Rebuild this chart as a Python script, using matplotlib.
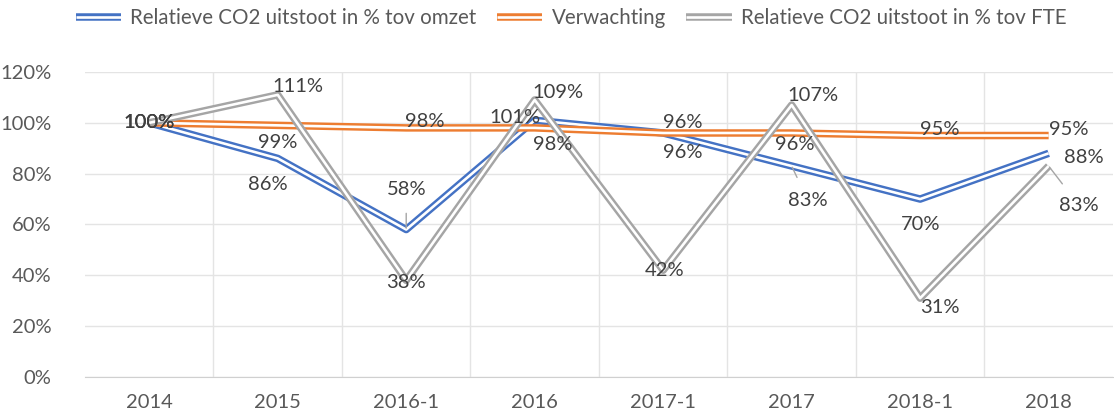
import matplotlib.pyplot as plt
import matplotlib.patheffects as pe
import numpy as np

plt.rcParams['font.family'] = ['Lato', 'DejaVu Sans']

# data
categories = ['2014', '2015', '2016-1', '2016', '2017-1', '2017', '2018-1', '2018']
omzet = [100, 86, 58, 101, 96, 83, 70, 88]
verwachting = [100, 99, 98, 98, 96, 96, 95, 95]
fte = [100, 111, 38, 109, 42, 107, 31, 83]

labels = ['Relatieve CO2 uitstoot in % tov omzet', 'Verwachting',
          'Relatieve CO2 uitstoot in % tov FTE']
colors = ['#4472C4', '#ED7D31', '#A5A5A5']

# label offsets in pixels (dx, dy), and whether a leader line is drawn
off_omzet = [(0, 0), (-10, -26), (0, 40), (-20, 3), (20, -20), (16, -34), (0, -25), (35, -4)]
off_verw = [(0, 0), (0, -17), (19, 6), (18, -17), (20, 10), (3, -12), (20, 6), (20, 6)]
off_fte = [(0, 0), (20, 8), (0, -2), (23, 7), (1, 0), (21, 10), (20, -9), (30, -39)]
lead_omzet = [False, False, True, False, False, True, False, False]
lead_fte = [False, False, False, False, False, False, False, True]

fig = plt.figure(figsize=(11.14, 4.19), dpi=100)
ax = fig.add_axes([0.0763, 0.1003, 0.9227, 0.7279])

x = np.arange(len(categories))
series = [omzet, verwachting, fte]
for vals, lab, col in zip(series, labels, colors):
    # double line look: wide coloured stroke with a thin white stroke on top
    ax.plot(x, vals, color=col, lw=5.4, label=lab,
            path_effects=[pe.Stroke(linewidth=5.4, foreground=col, capstyle='butt'),
                          pe.Stroke(linewidth=1.9, foreground='white', capstyle='butt')])

txt = '#404040'
for vals, offs, leads in [(omzet, off_omzet, lead_omzet),
                          (verwachting, off_verw, [False] * 8),
                          (fte, off_fte, lead_fte)]:
    for i, v in enumerate(vals):
        dx, dy = offs[i]
        kw = {}
        if leads[i]:
            kw['arrowprops'] = dict(arrowstyle='-', color='#A5A5A5', lw=1,
                                    shrinkA=9, shrinkB=1)
        ax.annotate(f'{v}%', (i, v), xytext=(dx, dy), textcoords='offset pixels',
                    ha='center', va='center', fontsize=14.5, color=txt, **kw)

ax.set_xlim(-0.5, len(categories) - 0.5)
ax.set_ylim(0, 120)
ax.set_yticks(range(0, 121, 20))
ax.set_yticklabels([f'{t}%' for t in range(0, 121, 20)])
ax.set_xticks(x)
ax.set_xticklabels(categories)
ax.set_xticks(x[:-1] + 0.5, minor=True)
ax.tick_params(axis='both', which='both', length=0, labelsize=14.5, labelcolor='#595959')
ax.tick_params(axis='y', pad=24)
ax.tick_params(axis='x', pad=12)
ax.grid(axis='y', color='#E4E4E4', lw=1)
ax.grid(axis='x', which='minor', color='#E4E4E4', lw=1)
ax.set_axisbelow(True)
for s in ['top', 'right', 'left']:
    ax.spines[s].set_visible(False)
ax.spines['bottom'].set_color('#D0D0D0')

ax.legend(loc='center', bbox_to_anchor=(0.473, 1.177), ncol=3, frameon=False,
          fontsize=14.8, labelcolor='#595959', handlelength=2.2, columnspacing=1.0,
          handletextpad=0.45, borderaxespad=0)

fig.savefig('out.png', dpi=100)
